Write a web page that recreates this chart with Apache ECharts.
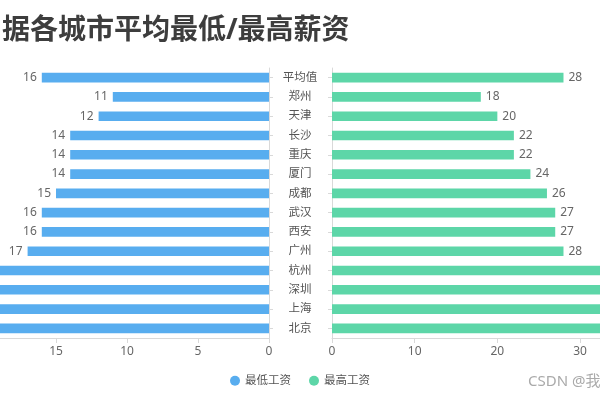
<!DOCTYPE html>
<html>
<head>
<meta charset="utf-8">
<script src="https://cdn.jsdelivr.net/npm/echarts@6/dist/echarts.min.js"></script>
<style>
html,body{margin:0;padding:0;width:600px;height:400px;overflow:hidden;background:#fff;}
#main{position:absolute;left:-100px;top:0;width:800px;height:400px;}
</style>
</head>
<body>
<div id="main"></div>
<script>
const titleText = '据各城市平均最低/最高薪资';
const categories = ['平均值','郑州','天津','长沙','重庆','厦门','成都','武汉','西安','广州','杭州','深圳','上海','北京'];
const minSalary = [16,11,12,14,14,14,15,16,16,17,20,21,22,23];
const maxSalary = [28,18,20,22,22,24,26,27,27,28,33,35,36,38];
const seriesNames = ['最低工资','最高工资'];
const watermark = 'CSDN @我';

const FONT = '"Noto Sans", "Noto Sans CJK SC", sans-serif';
const chart = echarts.init(document.getElementById('main'), null, {renderer:'canvas'});
const axisLineStyle = {lineStyle:{color:'#d9d9d9'}};
chart.setOption({
  animation:false,
  textStyle:{fontFamily:FONT},
  title:{text:titleText,left:102,top:17,padding:0,
    textStyle:{fontSize:28,fontWeight:'bold',color:'#3d3d3d',fontFamily:FONT}},
  legend:{top:370,left:'center',icon:'circle',itemWidth:10,itemHeight:10,itemGap:18,
    textStyle:{fontSize:11.5,color:'#555',fontFamily:FONT},data:seriesNames},
  grid:[
    {left:14,right:431,top:68,bottom:62},
    {left:432,right:37.3,top:68,bottom:62}
  ],
  xAxis:[
    {gridIndex:0,type:'value',inverse:true,min:0,max:25,interval:5,
      axisLine:{show:true,...axisLineStyle},axisTick:{show:true,lineStyle:{color:'#d9d9d9'}},
      splitLine:{show:false},axisLabel:{color:'#666',fontSize:12,margin:8}},
    {gridIndex:1,type:'value',min:0,max:40,interval:10,
      axisLine:{show:true,...axisLineStyle},axisTick:{show:true,lineStyle:{color:'#d9d9d9'}},
      splitLine:{show:false},axisLabel:{color:'#666',fontSize:12,margin:8}}
  ],
  yAxis:[
    {gridIndex:0,type:'category',position:'right',inverse:true,data:categories,
      axisLine:{show:true,...axisLineStyle},axisTick:{show:true,alignWithLabel:true,length:4,lineStyle:{color:'#d9d9d9'}},
      axisLabel:{show:false}},
    {gridIndex:1,type:'category',position:'left',inverse:true,data:categories,
      axisLine:{show:true,...axisLineStyle},axisTick:{show:true,alignWithLabel:true,length:4,lineStyle:{color:'#d9d9d9'}},
      axisLabel:{show:true,align:'center',margin:32,color:'#555',fontSize:11.5}}
  ],
  series:[
    {name:seriesNames[0],type:'bar',xAxisIndex:0,yAxisIndex:0,data:minSalary,barWidth:'50%',
      itemStyle:{color:'#58adef'},
      label:{show:true,position:'left',distance:5,color:'#666',fontSize:12}},
    {name:seriesNames[1],type:'bar',xAxisIndex:1,yAxisIndex:1,data:maxSalary,barWidth:'50%',
      itemStyle:{color:'#5dd6a8'},
      label:{show:true,position:'right',distance:5,color:'#666',fontSize:12}}
  ],
  graphic:[{type:'text',left:628,top:374,style:{text:watermark,fontSize:15,fill:'#aaa',fontFamily:FONT}}]
});
</script>
</body>
</html>
